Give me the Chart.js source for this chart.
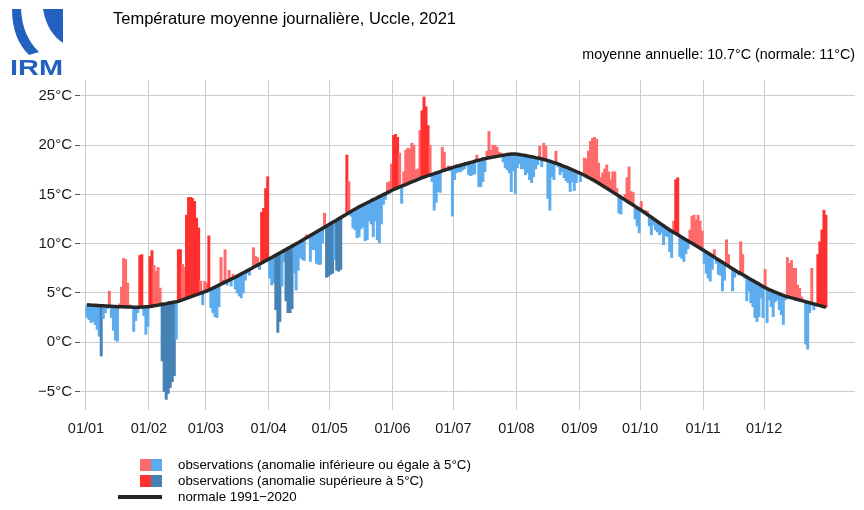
<!DOCTYPE html>
<html lang="fr">
<head>
<meta charset="utf-8">
<title>Température moyenne journalière, Uccle, 2021</title>
<script src="https://cdn.jsdelivr.net/npm/chart.js@4.4.1/dist/chart.umd.min.js"></script>
<style>
  html, body { margin: 0; padding: 0; background: #ffffff; }
  #wrap { position: relative; width: 864px; height: 510px; overflow: hidden;
          font-family: "Liberation Sans", Arial, Helvetica, sans-serif; color: #000; }
  #chart { position: absolute; left: 0; top: 0; }
  .title { position: absolute; left: 113px; top: 10px; font-size: 16.5px; line-height: 17px; white-space: nowrap; }
  .sub { position: absolute; right: 9px; top: 47px; font-size: 14.3px; line-height: 15px; white-space: nowrap; }
  .logo { position: absolute; left: 8px; top: 6px; }
  .leg { position: absolute; font-size: 13.3px; line-height: 14px; white-space: nowrap; }
  .sw { position: absolute; width: 11px; height: 12px; }
  .ln { position: absolute; height: 3.5px; background: #262626; }
</style>
</head>
<body>
<div id="wrap">
  <canvas id="chart" width="864" height="510"></canvas>

  <svg class="logo" width="58" height="72" viewBox="0 0 58 72">
    <path d="M4,3 L13,3 C14,21 19,34 31,46 L21,49 C10,38 4,23 4,3 Z" fill="#2360c0"/>
    <path d="M35,3 L55,3 L55,37 C46,31 38,21 35,3 Z" fill="#2360c0"/>
    <text x="2" y="69" font-family="Liberation Sans, Arial, sans-serif" font-weight="bold" font-size="22" fill="#2360c0" textLength="53" lengthAdjust="spacingAndGlyphs">IRM</text>
  </svg>

  <div class="title">Température moyenne journalière, Uccle, 2021</div>
  <div class="sub">moyenne annuelle: 10.7°C (normale: 11°C)</div>

  <div class="sw" style="left:140px; top:459px; background:#FF6A6A"></div>
  <div class="sw" style="left:151px; top:459px; background:#5CACEE"></div>
  <div class="leg" style="left:178px; top:458px">observations (anomalie inférieure ou égale à 5°C)</div>

  <div class="sw" style="left:140px; top:475px; background:#FF3030"></div>
  <div class="sw" style="left:151px; top:475px; background:#4682B4"></div>
  <div class="leg" style="left:178px; top:474px">observations (anomalie supérieure à 5°C)</div>

  <div class="ln" style="left:118px; top:495px; width:44px"></div>
  <div class="leg" style="left:178px; top:490px">normale 1991−2020</div>
</div>

<script>
// Daily mean temperature, Uccle 2021 (°C), one array per month
const obsJan = [2.5,2.3,2.0,2.1,1.8,1.3,0.6,-1.4,2.4,3.0,3.4,5.2,2.5,1.2,0.2,0.1,3.9,5.6,8.5,8.4,6.0,3.8,3.5,1.1,2.2,3.0,8.8,8.9,2.7,0.8,1.6];
const obsFeb = [8.7,9.3,7.8,7.2,7.6,5.5,-1.9,-5.0,-5.8,-5.2,-4.6,-4.0,-3.4,0.3,9.4,9.4,7.9,7.6,12.9,14.7,14.7,14.6,14.3,12.6,11.6,6.2,3.8,6.2];
const obsMar = [6.0,10.8,3.5,3.0,2.6,2.5,3.6,8.6,6.3,9.4,5.8,7.3,5.7,6.9,5.4,5.0,4.7,4.5,5.0,6.3,7.0,6.8,7.6,9.6,8.7,8.6,7.4,13.2,13.6,15.6,16.8];
const obsApr = [6.5,5.8,6.0,3.3,1.0,2.1,5.7,8.2,4.2,3.0,3.0,3.4,7.0,5.3,7.3,8.6,8.4,8.3,10.9,10.8,8.2,9.4,9.4,8.0,7.9,7.9,10.1,13.1,6.6,6.7];
const obsMay = [6.9,7.0,8.4,7.3,7.2,7.4,12.6,12.8,19.0,16.3,12.8,11.6,11.4,10.6,10.7,11.5,11.7,10.3,10.4,12.3,12.0,10.7,12.3,10.4,10.1,12.0,14.0,14.5,16.2,16.3,18.1];
const obsJun = [21.0,21.1,20.8,19.2,14.1,17.3,19.5,19.7,19.6,20.2,20.0,17.5,17.6,21.5,23.5,24.9,23.9,22.0,20.0,16.3,13.4,14.2,15.3,15.2,19.8,19.3,17.7,17.9,17.4,12.8];
const obsJul = [16.5,17.2,17.3,17.3,17.5,17.6,17.9,17.0,16.9,17.0,17.1,19.0,15.8,15.8,16.3,17.3,19.4,21.4,19.5,20.0,20.0,19.8,19.3,19.2,18.3,17.7,17.5,17.2,15.3,17.4,15.1];
const obsAug = [17.7,18.1,17.6,17.6,17.0,17.2,16.5,16.2,16.8,17.6,18.0,19.9,17.8,20.2,19.9,14.6,13.4,16.8,16.5,19.4,17.8,17.0,17.3,16.7,16.4,16.2,15.3,16.3,15.4,16.2,17.1];
const obsSep = [16.3,16.9,18.7,18.6,19.4,20.4,20.7,20.8,20.6,18.2,16.7,17.2,17.6,18.0,17.3,16.5,17.3,17.3,15.6,13.1,13.0,14.6,15.0,16.7,17.8,15.3,15.2,12.5,11.8,11.1];
const obsOct = [14.3,13.1,13.4,13.3,11.8,10.9,11.9,11.4,11.2,10.9,11.1,9.9,10.8,10.7,9.2,8.6,12.3,16.5,16.7,8.7,8.5,8.2,9.0,9.5,11.4,12.8,12.9,12.4,12.9,12.3,11.3];
const obsNov = [8.0,7.0,6.5,6.2,7.4,9.4,8.0,6.9,6.8,5.2,6.3,10.4,8.9,7.5,5.2,6.6,7.0,6.8,10.2,8.9,6.5,4.2,5.2,4.0,3.6,2.5,2.1,2.6,4.5,2.5];
const obsDec = [7.4,2.0,4.3,3.6,2.6,4.1,4.3,3.3,2.8,1.8,4.3,8.6,8.0,8.3,7.5,7.5,5.8,5.5,4.6,4.3,-0.2,-0.7,3.0,7.5,3.3,3.9,8.9,10.2,11.4,13.4,12.9];

// Daily normal 1991-2020 (°C), one array per month
const normJan = [3.80,3.79,3.77,3.76,3.75,3.74,3.72,3.71,3.70,3.68,3.67,3.66,3.65,3.63,3.62,3.61,3.61,3.60,3.60,3.59,3.58,3.57,3.57,3.56,3.56,3.55,3.56,3.57,3.59,3.60,3.61];
const normFeb = [3.62,3.66,3.70,3.73,3.77,3.81,3.85,3.89,3.92,3.96,4.00,4.04,4.08,4.11,4.15,4.23,4.30,4.38,4.45,4.53,4.60,4.68,4.75,4.83,4.90,4.98,5.05,5.13];
const normMar = [5.20,5.30,5.40,5.50,5.60,5.70,5.80,5.90,6.00,6.10,6.20,6.30,6.40,6.50,6.60,6.71,6.82,6.94,7.05,7.16,7.27,7.38,7.49,7.61,7.72,7.83,7.94,8.05,8.16,8.28,8.39];
const normApr = [8.50,8.61,8.73,8.84,8.96,9.07,9.19,9.30,9.41,9.53,9.64,9.76,9.87,9.99,10.10,10.22,10.34,10.47,10.59,10.71,10.83,10.95,11.08,11.20,11.32,11.44,11.56,11.68,11.81,11.93];
const normMay = [12.05,12.17,12.29,12.41,12.54,12.66,12.78,12.90,13.02,13.14,13.26,13.39,13.51,13.63,13.75,13.85,13.96,14.06,14.16,14.26,14.37,14.47,14.57,14.68,14.78,14.88,14.99,15.09,15.19,15.29,15.40];
const normJun = [15.50,15.59,15.67,15.76,15.84,15.93,16.01,16.10,16.19,16.27,16.36,16.44,16.53,16.61,16.70,16.77,16.84,16.91,16.98,17.04,17.11,17.18,17.25,17.32,17.39,17.46,17.53,17.59,17.66,17.73];
const normJul = [17.80,17.86,17.91,17.97,18.03,18.09,18.14,18.20,18.26,18.31,18.37,18.43,18.49,18.54,18.60,18.64,18.68,18.72,18.75,18.79,18.83,18.87,18.91,18.95,18.98,19.02,19.06,19.09,19.11,19.11,19.10];
const normAug = [19.08,19.05,19.02,18.99,18.95,18.91,18.87,18.83,18.79,18.74,18.70,18.65,18.60,18.55,18.50,18.44,18.38,18.31,18.24,18.17,18.10,18.02,17.94,17.86,17.78,17.69,17.60,17.51,17.42,17.33,17.24];
const normSep = [17.15,17.05,16.95,16.84,16.73,16.62,16.51,16.39,16.27,16.15,16.02,15.89,15.76,15.63,15.50,15.37,15.24,15.11,14.98,14.84,14.71,14.58,14.45,14.32,14.19,14.06,13.93,13.79,13.66,13.53];
const normOct = [13.40,13.26,13.11,12.97,12.83,12.69,12.54,12.40,12.26,12.11,11.97,11.83,11.69,11.54,11.40,11.28,11.15,11.03,10.91,10.78,10.66,10.54,10.41,10.29,10.16,10.04,9.92,9.79,9.67,9.55,9.42];
const normNov = [9.30,9.17,9.04,8.90,8.77,8.64,8.51,8.38,8.24,8.11,7.98,7.85,7.71,7.58,7.45,7.33,7.21,7.09,6.98,6.86,6.74,6.62,6.50,6.38,6.26,6.14,6.03,5.91,5.79,5.67];
const normDec = [5.55,5.45,5.35,5.26,5.17,5.08,5.00,4.92,4.84,4.76,4.69,4.62,4.55,4.50,4.45,4.39,4.34,4.28,4.22,4.17,4.11,4.06,4.00,3.94,3.89,3.83,3.77,3.72,3.66,3.61,3.55];

// Axis ticks: first day of each month (day-of-year index) and temperature grid
const monthStarts = [0,31,59,90,120,151,181,212,243,273,304,334];
const monthLabels = ['01/01','01/02','01/03','01/04','01/05','01/06','01/07','01/08','01/09','01/10','01/11','01/12'];
const tempTicks = [-5,0,5,10,15,20,25];

// Anomaly colours: light for |anomaly| <= 5 °C, strong beyond
const COL_WARM = '#FF6A6A', COL_WARM_STRONG = '#FF3030';
const COL_COLD = '#5CACEE', COL_COLD_STRONG = '#4682B4';

const observed = [].concat(obsJan, obsFeb, obsMar, obsApr, obsMay, obsJun, obsJul, obsAug, obsSep, obsOct, obsNov, obsDec);
const normal = [].concat(normJan, normFeb, normMar, normApr, normMay, normJun, normJul, normAug, normSep, normOct, normNov, normDec);

const barPoints = observed.map((t, i) => ({ x: i + 0.5, y: [normal[i], t] }));
const normalPoints = normal.map((t, i) => ({ x: i + 0.5, y: t }));
const barColours = observed.map((t, i) => {
  const a = t - normal[i];
  if (a > 5) return COL_WARM_STRONG;
  if (a >= 0) return COL_WARM;
  if (a < -5) return COL_COLD_STRONG;
  return COL_COLD;
});

const fmtTemp = v => (v < 0 ? '\u2212' + Math.abs(v) : String(v)) + '°C';

Chart.defaults.font.family = '"Liberation Sans", Arial, Helvetica, sans-serif';
Chart.defaults.color = '#1a1a1a';

new Chart(document.getElementById('chart'), {
  type: 'bar',
  data: {
    datasets: [
      { type: 'line', data: normalPoints, borderColor: '#262626', borderWidth: 3.5,
        pointRadius: 0, tension: 0, order: 0, borderCapStyle: 'butt', borderJoinStyle: 'round' },
      { type: 'bar', data: barPoints, backgroundColor: barColours, borderWidth: 0,
        barThickness: 2.3, order: 1 }
    ]
  },
  options: {
    responsive: false,
    animation: false,
    events: [],
    layout: { padding: { left: 0, right: 9, top: 80, bottom: 70 } },
    plugins: { legend: { display: false }, tooltip: { enabled: false } },
    scales: {
      x: {
        type: 'linear', min: -2.955, max: 378.8, offset: false,
        afterBuildTicks: s => { s.ticks = monthStarts.map(v => ({ value: v })); },
        afterFit: s => { s.height = 35; },
        grid: { offset: false, color: '#cccccc', lineWidth: 1, drawTicks: true, tickLength: 5, tickColor: '#cccccc' },
        border: { display: false },
        ticks: { autoSkip: false, maxRotation: 0, padding: 10, font: { size: 14.5 },
                 callback: (v, i) => monthLabels[i] }
      },
      y: {
        type: 'linear', min: -6.37, max: 26.62,
        afterBuildTicks: s => { s.ticks = tempTicks.map(v => ({ value: v })); },
        afterFit: s => { s.width = 80; },
        grid: { color: '#cccccc', lineWidth: 1, drawTicks: true, tickLength: 5, tickColor: '#555555' },
        border: { display: false },
        ticks: { padding: 3, font: { size: 15 }, callback: v => fmtTemp(v) }
      }
    }
  }
});
</script>
</body>
</html>
